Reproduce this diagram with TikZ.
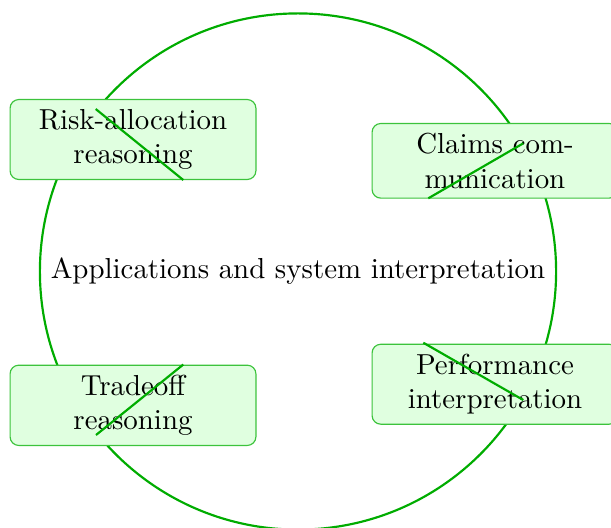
\documentclass[tikz,border=0pt]{standalone}
\definecolor{cgreen}{RGB}{0,172,0}
\definecolor{bgreen}{RGB}{60,195,60}
\definecolor{bfill}{RGB}{224,255,224}
\begin{document}
\begin{tikzpicture}[x=0.346pt,y=-0.346pt,
  topic/.style={draw=bgreen, fill=bfill, line width=0.4pt, rounded corners=3pt,
    text width=78.4pt, align=center, inner sep=3.33pt},
  link/.style={draw=cgreen, line width=0.75pt},
  ringstyle/.style={draw=cgreen, line width=0.75pt, circle, minimum size=178.6pt, inner sep=0pt}]
\useasboundingbox (0,0) rectangle (611,527);
\clip (0,0) rectangle (611,527);
\node[ringstyle] (ring) at (298,271.5) {};
\node (title) at (298,271) {Applications and system interpretation};
\node[topic] (risk) at (133,139.5) {Risk-allocation\\reasoning};
\node[topic] (claims) at (495,160.8) {Claims com-\\munication};
\node[topic] (trade) at (133,405.3) {Tradeoff\\reasoning};
\node[topic] (perf) at (495,384.2) {Performance\\interpretation};
\coordinate (r1) at (95.7,109);   \coordinate (r2) at (183.3,180);
\coordinate (c1) at (523.3,143.3); \coordinate (c2) at (428.3,198.3);
\coordinate (t1) at (183.3,364.5); \coordinate (t2) at (96,435);
\coordinate (p1) at (423.3,342.7); \coordinate (p2) at (523.3,400);
\draw[link] (r1) -- (r2);
\draw[link] (c1) -- (c2);
\draw[link] (t1) -- (t2);
\draw[link] (p1) -- (p2);
\end{tikzpicture}
\end{document}
